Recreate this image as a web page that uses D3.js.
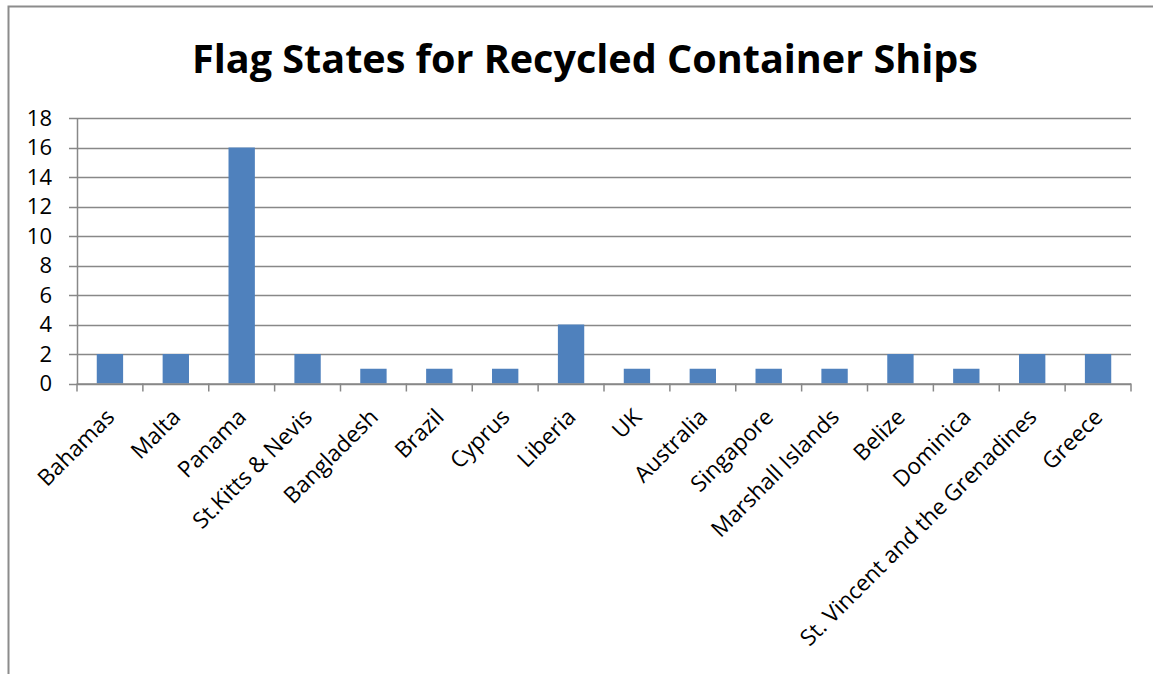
<!DOCTYPE html>
<html><head><meta charset="utf-8">
<script src="https://cdn.jsdelivr.net/npm/d3@7/dist/d3.min.js"></script>
<style>body{margin:0;background:#fff;} svg{display:block;}</style>
</head><body>
<svg id="chart" width="1153" height="674"></svg>
<script>
const title = "Flag States for Recycled Container Ships";
const categories = ["Bahamas","Malta","Panama","St.Kitts & Nevis","Bangladesh","Brazil","Cyprus","Liberia","UK","Australia","Singapore","Marshall Islands","Belize","Dominica","St. Vincent and the Grenadines","Greece"];
const values = [2,2,16,2,1,1,1,4,1,1,1,1,2,1,2,2];
const yTicks = [0,2,4,6,8,10,12,14,16,18];

(function(){
const svg = d3.select("#chart");
const font = "'Open Sans', 'Liberation Sans', sans-serif";
// outer frame
svg.append("path").attr("d","M8.5,674 V6.5 H1153").attr("fill","none").attr("stroke","#8c8c8c").attr("stroke-width",2);

const pLeft = 77, pRight = 1131, pTop = 118, pBottom = 383.5;
const x = d3.scaleBand().domain(categories).range([pLeft,pRight]).paddingInner(0.6).paddingOuter(0.3);
const y = d3.scaleLinear().domain([0,18]).range([pBottom,pTop]);

// gridlines
svg.append("g").selectAll("line").data(yTicks).join("line")
  .attr("x1",pLeft-8).attr("x2",pRight).attr("y1",d=>Math.round(y(d))+0.5).attr("y2",d=>Math.round(y(d))+0.5)
  .attr("stroke","#888").attr("stroke-width",1.5);

// bars
svg.append("g").selectAll("rect").data(values).join("rect")
  .attr("x",(d,i)=>x(categories[i])).attr("width",x.bandwidth())
  .attr("y",d=>y(d)).attr("height",d=>y(0)-y(d)).attr("fill","#4f81bd");

// y axis
const yAxis = d3.axisLeft(y).tickValues(yTicks).tickSize(0).tickPadding(25);
const gy = svg.append("g").attr("transform",`translate(${pLeft},0)`).call(yAxis);
gy.select(".domain").attr("stroke","#888").attr("stroke-width",1.5);
gy.selectAll("text").attr("font-family",font).attr("font-size",22).attr("fill","#000");

// x axis
const step = (pRight-pLeft)/categories.length;
const xb = svg.append("g");
xb.append("line").attr("x1",pLeft).attr("x2",pRight).attr("y1",pBottom+0.5).attr("y2",pBottom+0.5).attr("stroke","#888").attr("stroke-width",1.5);
xb.selectAll("line.tk").data(d3.range(categories.length+1)).join("line").attr("class","tk")
  .attr("x1",i=>pLeft+i*step).attr("x2",i=>pLeft+i*step).attr("y1",pBottom).attr("y2",pBottom+8)
  .attr("stroke","#888").attr("stroke-width",1.5);
xb.selectAll("text").data(categories).join("text")
  .attr("transform",d=>`translate(${x(d)+x.bandwidth()/2+6},${pBottom+35}) rotate(-45)`)
  .attr("text-anchor","end").attr("font-family",font).attr("font-size",22.5).attr("fill","#000")
  .text(d=>d);

svg.append("text").attr("x",585).attr("y",73).attr("text-anchor","middle")
  .attr("font-family",font).attr("font-weight","bold").attr("font-size",40).attr("fill","#000")
  .attr("textLength",786).attr("lengthAdjust","spacingAndGlyphs")
  .text(title);
})();
</script>
</body></html>
